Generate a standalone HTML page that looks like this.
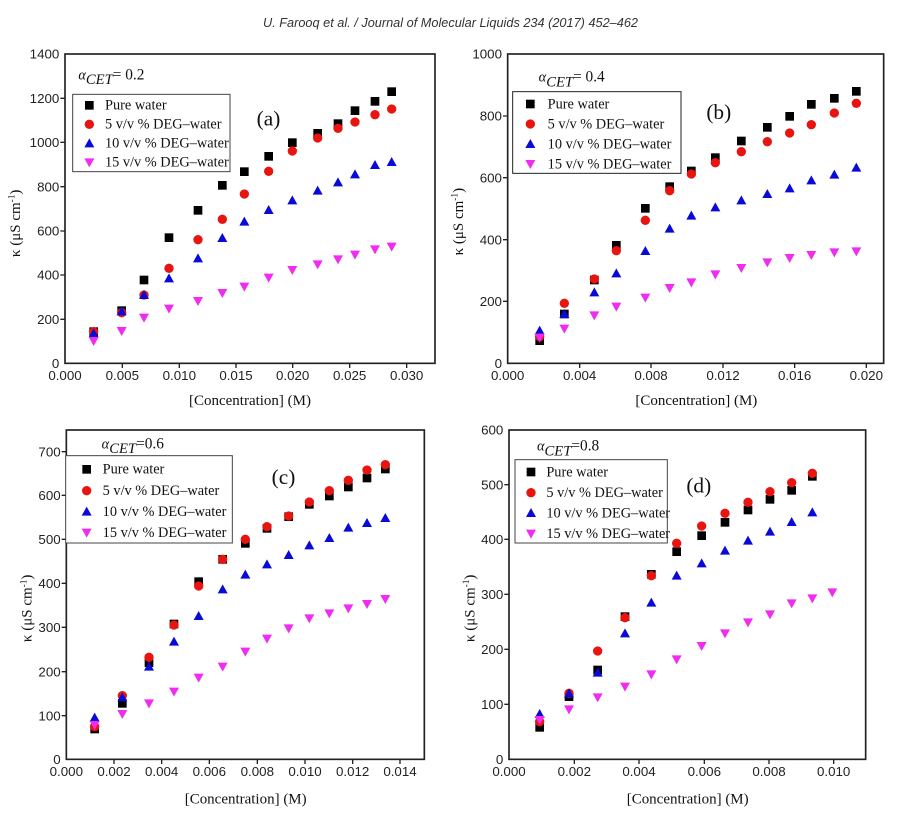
<!DOCTYPE html>
<html><head><meta charset="utf-8"><style>
html,body{margin:0;padding:0;background:#fff;}
svg{display:block;}
.tk{font-family:"Liberation Sans",sans-serif;font-size:40px;fill:#222;}
.lg{font-family:"Liberation Serif",serif;font-size:43px;fill:#111;}
.ax{font-family:"Liberation Serif",serif;font-size:45px;fill:#111;}
.pl{font-family:"Liberation Serif",serif;font-size:64px;fill:#111;}
</style></head><body>
<svg id="s" width="897" height="826" viewBox="0 0 897 826" xmlns="http://www.w3.org/2000/svg">
<rect width="897" height="826" fill="#fff"/>
<text x="263" y="27" font-family="Liberation Sans, sans-serif" font-style="italic" font-size="12.5" fill="#333" textLength="375" lengthAdjust="spacingAndGlyphs">U. Farooq et al. / Journal of Molecular Liquids 234 (2017) 452–462</text>

<g id="pa" transform="translate(0,40) scale(0.33333)">
<rect x="195" y="42" width="1110" height="928" fill="none" stroke="#222" stroke-width="5"/>
<g class="tk" text-anchor="end">
<text x="178" y="984">0</text><text x="178" y="852">200</text><text x="178" y="719">400</text><text x="178" y="587">600</text><text x="178" y="454">800</text><text x="178" y="321">1000</text><text x="178" y="189">1200</text><text x="178" y="56">1400</text></g>
<g class="tk" text-anchor="middle">
<text x="195" y="1020">0.000</text><text x="367" y="1020">0.005</text><text x="538" y="1020">0.010</text><text x="708" y="1020">0.015</text><text x="878" y="1020">0.020</text><text x="1049" y="1020">0.025</text><text x="1220" y="1020">0.030</text></g>
<text class="ax" x="750" y="1095" text-anchor="middle">[Concentration] (M)</text>
<text class="ax" transform="translate(60,550) rotate(-90)" text-anchor="middle">κ  (μS cm<tspan dy="-16" font-size="28">-1</tspan><tspan dy="16">)</tspan></text>
<rect x="218" y="163" width="472" height="232" fill="#fff" stroke="#444" stroke-width="3"/>
<text class="lg" x="235" y="118" font-style="italic" font-size="50">α<tspan dy="14" font-size="44">CET</tspan><tspan dy="-14" font-style="normal" font-size="46">= 0.2</tspan></text>
<g class="lg"><text x="315" y="209">Pure water</text><text x="315" y="266">5 v/v %  DEG–water</text><text x="315" y="323">10 v/v % DEG–water</text><text x="315" y="380">15 v/v % DEG–water</text></g>
<text class="pl" x="770" y="257">(a)</text>
</g>

<g id="pb" transform="translate(447,40) scale(0.33333)">
<rect x="182" y="42" width="1128" height="928" fill="none" stroke="#222" stroke-width="5"/>
<g class="tk" text-anchor="end">
<text x="165" y="984">0</text><text x="165" y="798">200</text><text x="165" y="613">400</text><text x="165" y="427">600</text><text x="165" y="242">800</text><text x="165" y="56">1000</text></g>
<g class="tk" text-anchor="middle">
<text x="182" y="1020">0.000</text><text x="398" y="1020">0.004</text><text x="612" y="1020">0.008</text><text x="828" y="1020">0.012</text><text x="1043" y="1020">0.016</text><text x="1258" y="1020">0.020</text></g>
<text class="ax" x="748" y="1095" text-anchor="middle">[Concentration] (M)</text>
<text class="ax" transform="translate(48,545) rotate(-90)" text-anchor="middle">κ  (μS cm<tspan dy="-16" font-size="28">-1</tspan><tspan dy="16">)</tspan></text>
<rect x="197" y="155" width="505" height="245" fill="#fff" stroke="#222" stroke-width="3"/>
<text class="lg" x="275" y="125" font-style="italic" font-size="50">α<tspan dy="14" font-size="44">CET</tspan><tspan dy="-14" font-style="normal" font-size="46">= 0.4</tspan></text>
<g class="lg"><text x="302" y="205">Pure water</text><text x="302" y="265">5 v/v % DEG–water</text><text x="302" y="325">10 v/v % DEG–water</text><text x="302" y="385">15 v/v % DEG–water</text></g>
<text class="pl" x="778" y="237">(b)</text>
</g>

<g id="pc" transform="translate(0,420) scale(0.33333)">
<rect x="199" y="30" width="1074" height="988" fill="none" stroke="#222" stroke-width="5"/>
<g class="tk" text-anchor="end">
<text x="182" y="1032">0</text><text x="182" y="901">100</text><text x="182" y="769">200</text><text x="182" y="636">300</text><text x="182" y="504">400</text><text x="182" y="372">500</text><text x="182" y="240">600</text><text x="182" y="109">700</text></g>
<g class="tk" text-anchor="middle">
<text x="199" y="1068">0.000</text><text x="342" y="1068">0.002</text><text x="485" y="1068">0.004</text><text x="628" y="1068">0.006</text><text x="772" y="1068">0.008</text><text x="915" y="1068">0.010</text><text x="1058" y="1068">0.012</text><text x="1200" y="1068">0.014</text></g>
<text class="ax" x="737" y="1150" text-anchor="middle">[Concentration] (M)</text>
<text class="ax" transform="translate(95,565) rotate(-90)" text-anchor="middle">κ (μS cm<tspan dy="-16" font-size="28">-1</tspan><tspan dy="16">)</tspan></text>
<rect x="197" y="107" width="500" height="262" fill="#fff" stroke="#444" stroke-width="3"/>
<text class="lg" x="305" y="85" font-style="italic" font-size="50">α<tspan dy="14" font-size="44">CET</tspan><tspan dy="-14" font-style="normal" font-size="46">=0.6</tspan></text>
<g class="lg"><text x="308" y="161">Pure water</text><text x="308" y="225">5  v/v %  DEG–water</text><text x="308" y="288">10 v/v % DEG–water</text><text x="308" y="351">15 v/v % DEG–water</text></g>
<text class="pl" x="815" y="192">(c)</text>
</g>

<g id="pd" transform="translate(447,420) scale(0.33333)">
<rect x="186" y="30" width="1070" height="988" fill="none" stroke="#222" stroke-width="5"/>
<g class="tk" text-anchor="end">
<text x="169" y="1032">0</text><text x="169" y="867">100</text><text x="169" y="702">200</text><text x="169" y="537">300</text><text x="169" y="372">400</text><text x="169" y="208">500</text><text x="169" y="44">600</text></g>
<g class="tk" text-anchor="middle">
<text x="186" y="1068">0.000</text><text x="382" y="1068">0.002</text><text x="576" y="1068">0.004</text><text x="772" y="1068">0.006</text><text x="966" y="1068">0.008</text><text x="1160" y="1068">0.010</text></g>
<text class="ax" x="722" y="1150" text-anchor="middle">[Concentration] (M)</text>
<text class="ax" transform="translate(82,565) rotate(-90)" text-anchor="middle">κ (μS cm<tspan dy="-16" font-size="28">-1</tspan><tspan dy="16">)</tspan></text>
<rect x="204" y="119" width="457" height="250" fill="#fff" stroke="#444" stroke-width="3"/>
<text class="lg" x="270" y="92" font-style="italic" font-size="50">α<tspan dy="14" font-size="44">CET</tspan><tspan dy="-14" font-style="normal" font-size="46">=0.8</tspan></text>
<g class="lg"><text x="298" y="169">Pure water</text><text x="298" y="231">5 v/v % DEG–water</text><text x="298" y="292">10 v/v % DEG–water</text><text x="298" y="354">15 v/v % DEG–water</text></g>
<text class="pl" x="718" y="217">(d)</text>
</g>
</svg>
<script>
(function(){
var NS="http://www.w3.org/2000/svg";
function mk(g,type,x,y){
  var e,r=13;
  if(type==0){e=document.createElementNS(NS,"rect");e.setAttribute("x",x-r);e.setAttribute("y",y-r);e.setAttribute("width",2*r);e.setAttribute("height",2*r);e.setAttribute("fill","#000");}
  else if(type==1){e=document.createElementNS(NS,"circle");e.setAttribute("cx",x);e.setAttribute("cy",y);e.setAttribute("r",r+1);e.setAttribute("fill","#e8140f");}
  else if(type==2){e=document.createElementNS(NS,"polygon");e.setAttribute("points",(x-15)+","+(y+12)+" "+(x+15)+","+(y+12)+" "+x+","+(y-15));e.setAttribute("fill","#0a0ad8");}
  else {e=document.createElementNS(NS,"polygon");e.setAttribute("points",(x-15)+","+(y-12)+" "+(x+15)+","+(y-12)+" "+x+","+(y+15));e.setAttribute("fill","#f02cf0");}
  g.appendChild(e);
}
function ticks(g,x0,y0,x1,y1,xs,ys){
  var d="";
  xs.forEach(function(x){d+="M"+x+","+y1+"v14";});
  ys.forEach(function(y){d+="M"+x0+","+y+"h-14";});
  var p=document.createElementNS(NS,"path");p.setAttribute("d",d);p.setAttribute("stroke","#222");p.setAttribute("stroke-width","4");p.setAttribute("fill","none");
  g.insertBefore(p,g.firstChild);
}
function series(id,xs,sets,leg){
  var g=document.getElementById(id);
  var pg=document.createElementNS(NS,"g");
  var lr=g.querySelector("rect:nth-of-type(2)");
  g.insertBefore(pg,lr);
  sets.forEach(function(ys,t){ys.forEach(function(y,i){ if(y!=null) mk(pg,t,xs[i],y);});});
  leg.r.forEach(function(y,t){mk(g,t,leg.x,y);});
}
var A=[281,365,432,507,594,667,733,806,877,953,1014,1065,1125,1175];
series("pa",A,[[875,812,720,593,511,436,395,349,308,280,251,212,184,155],
[875,818,765,685,599,538,462,394,333,294,265,246,224,207],
[880,814,765,715,655,594,545,510,481,452,427,403,375,366],
[903,873,833,806,783,759,740,713,690,673,658,644,628,620]],{x:268,r:[196,253,310,367]});
ticks(document.getElementById("pa"),195,42,1305,970,[367,538,708,878,1049,1220],[838,705,573,440,307,175]);
var B=[278,352,442,508,595,668,733,805,883,961,1028,1093,1162,1228];
series("pb",B,[[902,822,720,616,505,440,393,353,303,262,229,193,175,154],
[890,790,717,632,541,452,402,368,335,305,279,254,219,190],
[872,822,757,700,633,566,527,502,481,462,445,421,404,383],
[893,866,826,800,773,744,727,703,684,667,654,645,637,634]],{x:250,r:[192,252,312,372]});
ticks(document.getElementById("pb"),182,42,1310,970,[398,612,828,1043,1258],[784,599,413,228]);
var C=[284,367,447,522,596,668,736,801,866,928,988,1045,1101,1156];
series("pc",C,[[927,850,728,612,485,418,370,325,290,253,228,201,174,147],
[920,827,712,615,498,418,358,320,288,246,212,181,150,134],
[893,832,740,665,588,508,464,433,405,376,354,323,309,294],
[915,882,850,815,773,740,695,656,625,595,580,565,552,537]],{x:260,r:[148,212,275,338]});
ticks(document.getElementById("pc"),199,30,1273,1018,[342,485,628,772,915,1058,1200],[887,755,622,490,358,226,95]);
var D=[278,366,452,534,613,689,764,834,903,969,1034,1096,1156];
series("pd",D,[[922,830,750,590,463,395,347,307,270,238,211,169,null],
[905,820,693,593,467,370,318,280,247,215,188,160,null],
[882,820,758,640,548,467,430,392,362,335,306,277,null],
[900,868,832,800,763,718,678,640,607,583,550,535,517]],{x:252,r:[156,218,279,341]});
ticks(document.getElementById("pd"),186,30,1256,1018,[382,576,772,966,1160],[853,688,523,358,194]);
})();
</script>
</body></html>
